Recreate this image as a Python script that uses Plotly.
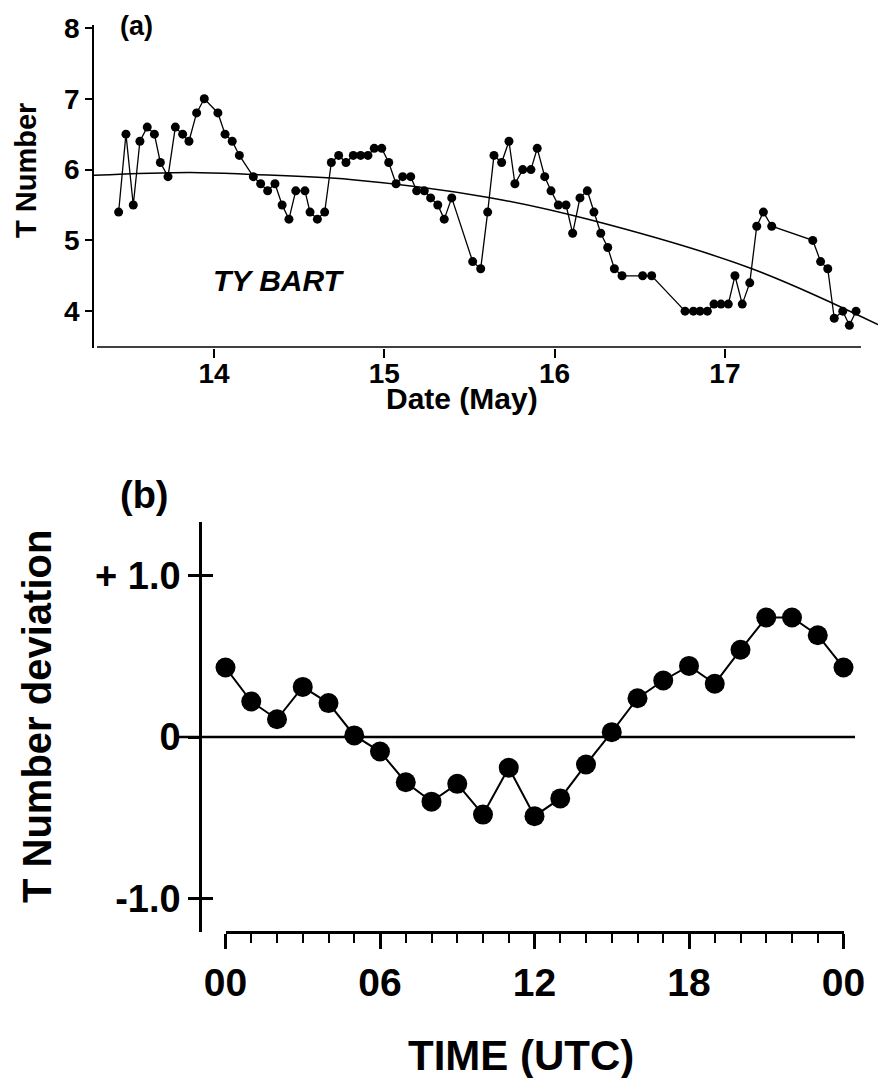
import plotly.graph_objects as go

W, H = 878, 1078
FONT = "Liberation Sans, Arial, Helvetica, sans-serif"

# ---------------- Panel (a) data ----------------
a_day = [13.440, 13.483, 13.526, 13.565, 13.608, 13.650, 13.685, 13.730, 13.773, 13.816,
         13.853, 13.898, 13.943, 14.023, 14.065, 14.107, 14.149, 14.231, 14.274, 14.315,
         14.358, 14.400, 14.440, 14.480, 14.534, 14.564, 14.607, 14.650, 14.689, 14.732,
         14.775, 14.818, 14.861, 14.904, 14.941, 14.985, 15.026, 15.069, 15.108, 15.155,
         15.190, 15.235, 15.272, 15.314, 15.352, 15.396, 15.519, 15.566, 15.607, 15.644,
         15.689, 15.732, 15.767, 15.813, 15.861, 15.898, 15.942, 15.979, 16.022, 16.067,
         16.106, 16.149, 16.192, 16.231, 16.271, 16.312, 16.351, 16.396, 16.517, 16.570,
         16.766, 16.815, 16.854, 16.897, 16.936, 16.977, 17.020, 17.059, 17.102, 17.146,
         17.187, 17.226, 17.275, 17.516, 17.562, 17.604, 17.642, 17.692, 17.731, 17.770]
a_tnum = [5.4, 6.5, 5.5, 6.4, 6.6, 6.5, 6.1, 5.9, 6.6, 6.5,
          6.4, 6.8, 7.0, 6.8, 6.5, 6.4, 6.2, 5.9, 5.8, 5.7,
          5.8, 5.5, 5.3, 5.7, 5.7, 5.4, 5.3, 5.4, 6.1, 6.2,
          6.1, 6.2, 6.2, 6.2, 6.3, 6.3, 6.1, 5.8, 5.9, 5.9,
          5.7, 5.7, 5.6, 5.5, 5.3, 5.6, 4.7, 4.6, 5.4, 6.2,
          6.1, 6.4, 5.8, 6.0, 6.0, 6.3, 5.9, 5.7, 5.5, 5.5,
          5.1, 5.6, 5.7, 5.4, 5.1, 4.9, 4.6, 4.5, 4.5, 4.5,
          4.0, 4.0, 4.0, 4.0, 4.1, 4.1, 4.1, 4.5, 4.1, 4.4,
          5.2, 5.4, 5.2, 5.0, 4.7, 4.6, 3.9, 4.0, 3.8, 4.0]

trend_day = [13.295, 13.859, 14.229, 14.799, 15.603, 16.208, 17.147, 17.899]
trend_val = [5.92, 5.96, 5.93, 5.86, 5.61, 5.29, 4.61, 3.81]

a_ticks = [14, 15, 16, 17]
a_yticks = [4, 5, 6, 7, 8]

# ---------------- Panel (b) data ----------------
b_hour = list(range(25))
b_dev = [0.43, 0.22, 0.11, 0.31, 0.21, 0.01, -0.09, -0.28, -0.40, -0.29,
         -0.48, -0.19, -0.49, -0.38, -0.17, 0.03, 0.24, 0.35, 0.44, 0.33,
         0.54, 0.74, 0.74, 0.63, 0.43]
b_xtickvals = [0, 6, 12, 18, 24]
b_xticktext = ["00", "06", "12", "18", "00"]
b_ytickvals = [-1, 0, 1]
b_yticktext = ["-1.0", "0", "+ 1.0"]


def px(x):
    return x / W


def py(y):
    return 1 - y / H


fig = go.Figure()

# Panel (a)
fig.add_trace(go.Scatter(x=trend_day, y=trend_val, mode="lines",
                         line=dict(color="black", width=1.5, shape="spline"),
                         xaxis="x", yaxis="y", hoverinfo="skip"))
fig.add_trace(go.Scatter(x=a_day, y=a_tnum, mode="lines+markers",
                         line=dict(color="black", width=1.3),
                         marker=dict(color="black", size=9),
                         xaxis="x", yaxis="y", cliponaxis=False))

# Panel (b)
fig.add_trace(go.Scatter(x=b_hour, y=b_dev, mode="lines+markers",
                         line=dict(color="black", width=2),
                         marker=dict(color="black", size=20),
                         xaxis="x2", yaxis="y2", cliponaxis=False))
fig.add_trace(go.Scatter(x=[], y=[], xaxis="x2", yaxis="y3", hoverinfo="skip"))

bold = dict(family=FONT, color="black", weight="bold")

fig.update_layout(
    width=W, height=H,
    margin=dict(l=0, r=0, t=0, b=0, autoexpand=False),
    paper_bgcolor="white", plot_bgcolor="rgba(0,0,0,0)",
    showlegend=False,
    font=dict(family=FONT, color="black"),
    xaxis=dict(domain=[px(94), 1.0], range=[13.2954, 17.899], anchor="y",
               showline=False, showgrid=False, zeroline=False, automargin=False,
               ticks="outside", ticklen=9, tickwidth=1.5, tickcolor="black",
               ticklabelstandoff=-9,
               tickvals=a_ticks, tickfont=dict(size=28, **bold)),
    yaxis=dict(domain=[py(348), py(25)], range=[3.48, 8.042], anchor="x",
               showline=True, linewidth=1.5, linecolor="black", automargin=False,
               showgrid=False, zeroline=False,
               ticks="outside", ticklen=7, tickwidth=1.5, tickcolor="black",
               tickvals=a_yticks, tickfont=dict(size=28, **bold)),
    xaxis2=dict(domain=[px(225.5), px(843.5)], range=[0, 24], anchor="free",
                position=py(932), automargin=False,
                showline=True, linewidth=2.5, linecolor="black",
                showgrid=False, zeroline=False,
                ticks="outside", ticklen=15, tickwidth=3, tickcolor="black",
                tickvals=b_xtickvals, ticktext=b_xticktext,
                minor=dict(dtick=1, tick0=0, ticks="outside", ticklen=9,
                           tickwidth=1.5, tickcolor="black", showgrid=False),
                ticklabelstandoff=0,
                tickfont=dict(size=39, **bold)),
    yaxis2=dict(domain=[py(932), py(522)], range=[-1.207, 1.331], anchor="free",
                position=px(200), automargin=False,
                showline=True, linewidth=2.5, linecolor="black",
                showgrid=False, zeroline=False,
                ticks="outside", ticklen=11, tickwidth=2.5, tickcolor="black",
                tickvals=b_ytickvals, ticktext=b_yticktext,
                tickfont=dict(size=38, **bold)),
    yaxis3=dict(overlaying="y2", range=[-1.207, 1.331], anchor="free",
                position=px(200), showline=False, showgrid=False, zeroline=False,
                automargin=False,
                ticks="inside", ticklen=12, tickwidth=2.5, tickcolor="black",
                tickvals=[-1, 1], showticklabels=False),
)

shapes = [
    # panel (a) bottom axis line (separate from y axis)
    dict(type="line", xref="paper", yref="paper", x0=px(97), x1=px(861),
         y0=py(347), y1=py(347), line=dict(color="black", width=1.5)),
    # panel (b) zero reference line
    dict(type="line", xref="paper", yref="y2", x0=px(175), x1=px(855),
         y0=0, y1=0, line=dict(color="black", width=2.5)),
]
fig.update_layout(shapes=shapes)

annotations = [
    dict(text="(a)", x=px(118), y=py(26), xref="paper", yref="paper",
         xanchor="left", yanchor="middle", showarrow=False, font=dict(size=27, **bold)),
    dict(text="TY BART", x=14.38, y=4.44, xref="x", yref="y",
         xanchor="center", yanchor="middle", showarrow=False,
         font=dict(size=30, style="italic", **bold)),
    dict(text="T Number", x=px(26), y=py(171), xref="paper", yref="paper",
         xanchor="center", yanchor="middle", textangle=-90, showarrow=False,
         font=dict(size=29, **bold)),
    dict(text="Date (May)", x=px(462), y=py(399), xref="paper", yref="paper",
         xanchor="center", yanchor="middle", showarrow=False, font=dict(size=30, **bold)),
    dict(text="(b)", x=px(118), y=py(495), xref="paper", yref="paper",
         xanchor="left", yanchor="middle", showarrow=False, font=dict(size=38, **bold)),
    dict(text="T Number deviation", x=px(37), y=py(717), xref="paper", yref="paper",
         xanchor="center", yanchor="middle", textangle=-90, showarrow=False,
         font=dict(size=40, **bold)),
    dict(text="TIME (UTC)", x=px(521), y=py(1055), xref="paper", yref="paper",
         xanchor="center", yanchor="middle", showarrow=False, font=dict(size=42, **bold)),
]
fig.update_layout(annotations=annotations)

fig.write_html("out.html")
